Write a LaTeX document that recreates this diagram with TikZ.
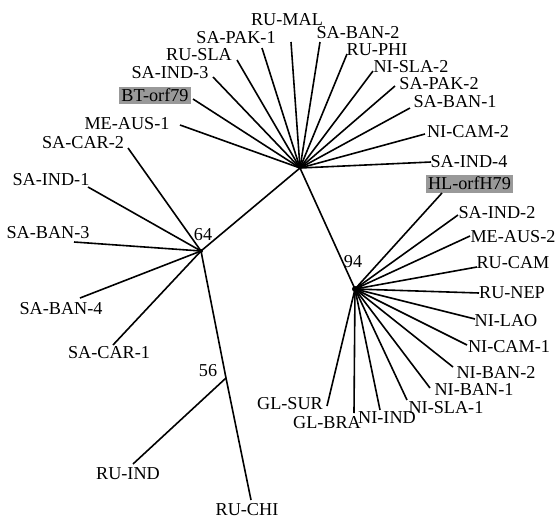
\documentclass[tikz,border=0pt]{standalone}
\usepackage{fontspec}
\setmainfont{Liberation Serif}
\begin{document}
\begin{tikzpicture}[x=1pt,y=-1pt,
  lbl/.style={inner sep=0pt,font=\fontsize{18.2}{20}\selectfont},
  hl/.style={lbl,fill=black!40,inner xsep=2pt,inner ysep=2.5pt},
  br/.style={line width=1.6pt,black},
  hubdot/.style={circle,fill=black,inner sep=0pt,minimum size=5pt}]
\useasboundingbox (0,0) rectangle (558,520);
% hubs
\node[hubdot,minimum size=3pt] (A) at (300,168) {};
\node[hubdot,minimum size=4pt] (B) at (201,251) {};
\node[hubdot,minimum size=6pt] (C) at (355,289) {};
\coordinate (D) at (226,378);
% bootstrap values
\node[lbl] (v64) at (203,235) {64};
\node[lbl] (v94) at (353,262) {94};
\node[lbl] (v56) at (208,371) {56};
% internal branches
\draw[br] (A.center) -- (B.center);
\draw[br] (A.center) -- (C.center);
\draw[br] (B.center) -- (D);
% --- clade at B
\node[lbl] (sacar2) at (83,143) {SA-CAR-2};   \coordinate (esacar2) at (128,148);
\node[lbl] (saind1) at (51,180) {SA-IND-1};   \coordinate (esaind1) at (88,187);
\node[lbl] (saban3) at (48,233) {SA-BAN-3};   \coordinate (esaban3) at (74,242);
\node[lbl] (saban4) at (61,309) {SA-BAN-4};   \coordinate (esaban4) at (80,298);
\node[lbl] (sacar1) at (109,353) {SA-CAR-1};  \coordinate (esacar1) at (113,345);
\foreach \e in {esacar2,esaind1,esaban3,esaban4,esacar1} \draw[br] (B.center) -- (\e);
% --- at D
\node[lbl] (ruind) at (128,474) {RU-IND};  \coordinate (eruind) at (133,464);
\node[lbl] (ruchi) at (247,510) {RU-CHI};  \coordinate (eruchi) at (251,500);
\draw[br] (D) -- (eruind);
\draw[br] (D) -- (eruchi);
% --- star at A
\node[lbl] (meaus1) at (127,124) {ME-AUS-1}; \coordinate (emeaus1) at (180,125);
\node[hl]  (bt) at (155,95.5) {BT-orf79};    \coordinate (ebt) at (193,99);
\node[lbl] (saind3) at (170,73) {SA-IND-3};  \coordinate (esaind3) at (213,77);
\node[lbl] (rusla) at (199,55) {RU-SLA};     \coordinate (erusla) at (237,60);
\node[lbl] (sapak1) at (236,38) {SA-PAK-1};  \coordinate (esapak1) at (262,48);
\node[lbl] (rumal) at (287,20) {RU-MAL};     \coordinate (erumal) at (291,42);
\node[lbl] (saban2) at (358,33) {SA-BAN-2};  \coordinate (esaban2) at (320,42);
\node[lbl] (ruphi) at (377,50) {RU-PHI};     \coordinate (eruphi) at (347,54);
\node[lbl] (nisla2) at (411,67) {NI-SLA-2};  \coordinate (enisla2) at (373,71);
\node[lbl] (sapak2) at (439,84) {SA-PAK-2};  \coordinate (esapak2) at (395,86);
\node[lbl] (saban1) at (455,102) {SA-BAN-1}; \coordinate (esaban1) at (410,108);
\node[lbl] (nicam2) at (468,132) {NI-CAM-2}; \coordinate (enicam2) at (425,134);
\node[lbl] (saind4) at (469,162) {SA-IND-4}; \coordinate (esaind4) at (431,162);
\foreach \e in {emeaus1,ebt,esaind3,erusla,esapak1,erumal,esaban2,eruphi,enisla2,esapak2,esaban1,enicam2,esaind4}
  \draw[br] (A.center) -- (\e);
% --- star at C
\node[hl]  (hl) at (469.5,183.5) {HL-orfH79}; \coordinate (ehl) at (442,193);
\node[lbl] (saind2) at (497,213) {SA-IND-2};  \coordinate (esaind2) at (458,215);
\node[lbl] (meaus2) at (513,237) {ME-AUS-2};  \coordinate (emeaus2) at (470,236);
\node[lbl] (rucam) at (513,263) {RU-CAM};     \coordinate (erucam) at (477,267);
\node[lbl] (runep) at (512,293) {RU-NEP};     \coordinate (erunep) at (479,293);
\node[lbl] (nilao) at (506,321) {NI-LAO};     \coordinate (enilao) at (475,319);
\node[lbl] (nicam1) at (509,347) {NI-CAM-1};  \coordinate (enicam1) at (467,345);
\node[lbl] (niban2) at (496,372) {NI-BAN-2};  \coordinate (eniban2) at (453,367);
\node[lbl] (niban1) at (474,390) {NI-BAN-1};  \coordinate (eniban1) at (430,388);
\node[lbl] (nisla1) at (446,408) {NI-SLA-1};  \coordinate (enisla1) at (407,400);
\node[lbl] (niind) at (387,418) {NI-IND};     \coordinate (eniind) at (380,410);
\node[lbl] (glbra) at (327,423) {GL-BRA};     \coordinate (eglbra) at (354,413);
\node[lbl] (glsur) at (290,404) {GL-SUR};     \coordinate (eglsur) at (327,406);
\foreach \e in {ehl,esaind2,emeaus2,erucam,erunep,enilao,enicam1,eniban2,eniban1,enisla1,eniind,eglbra,eglsur}
  \draw[br] (C.center) -- (\e);
\end{tikzpicture}
\end{document}
